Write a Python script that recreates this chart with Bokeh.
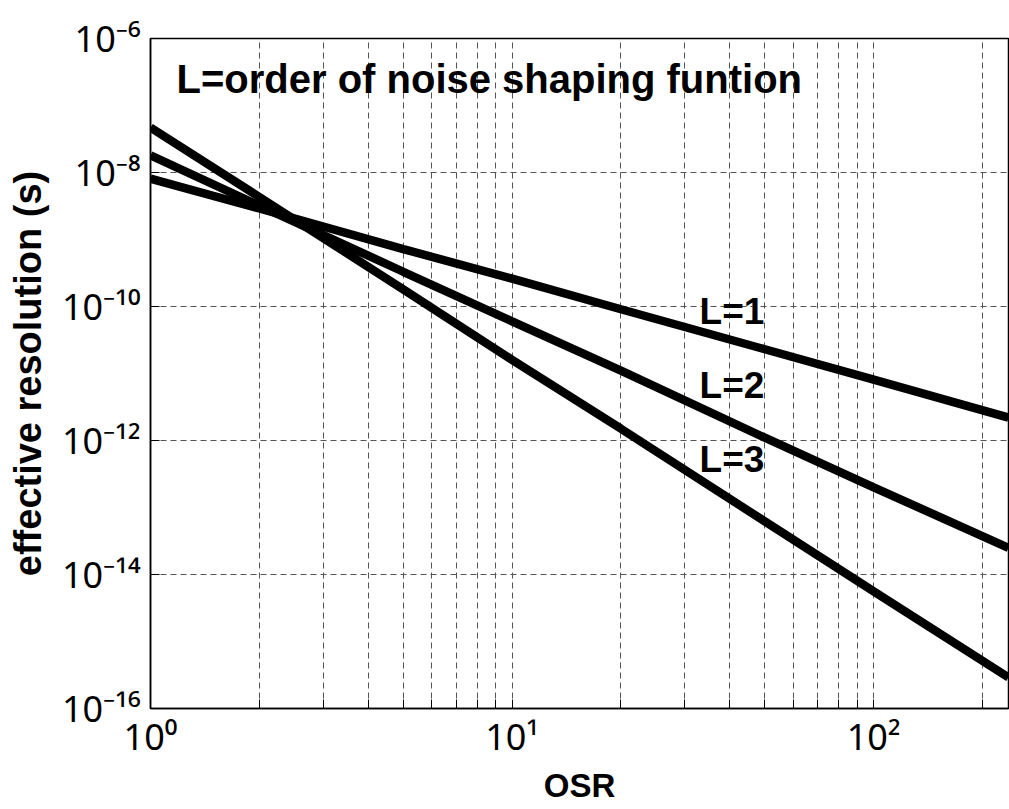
from bokeh.plotting import figure
from bokeh.models import FixedTicker, Label, Range1d
from bokeh.embed import file_html
from bokeh.resources import INLINE

# ---- data ----
osr = [1, 2, 5, 10, 20, 50, 100, 236]
res_L1 = [8.1e-9, 2.9e-9, 7.2e-10, 2.6e-10, 9.1e-11, 2.3e-11, 8.1e-12, 2.2e-12]
res_L2 = [1.8e-8, 3.2e-9, 3.3e-10, 6.0e-11, 1.1e-11, 1.1e-12, 2.0e-13, 2.5e-14]
res_L3 = [4.7e-8, 4.3e-9, 1.8e-10, 1.6e-11, 1.5e-12, 6.2e-14, 5.6e-15, 2.9e-16]

x_major = [1, 10, 100]
x_minor = [2, 3, 4, 5, 6, 7, 8, 9, 20, 30, 40, 50, 60, 70, 80, 90, 200]
x_tick_labels = ["10\u2070", "10\u00b9", "10\u00b2"]
y_major = [1e-16, 1e-14, 1e-12, 1e-10, 1e-8, 1e-6]
y_tick_labels = ["10\u207b\u00b9\u2076", "10\u207b\u00b9\u2074", "10\u207b\u00b9\u00b2",
                 "10\u207b\u00b9\u2070", "10\u207b\u2078", "10\u207b\u2076"]

curve_labels = ["L=1", "L=2", "L=3"]
curve_label_x = [33, 33, 33]
curve_label_y = [8.5e-11, 6.6e-12, 5.2e-13]

title_text = "L=order of noise shaping funtion"
title_x = 1.18
title_y = 2.5e-7

x_title = "OSR"
y_title = "effective resolution (s)"

FONT = "Liberation Sans"
TICK_FONT = "Noto Sans"

p = figure(width=1009, height=809, x_axis_type="log", y_axis_type="log",
           x_range=Range1d(1, 236), y_range=Range1d(1e-16, 1e-6),
           output_backend="svg", toolbar_location=None,
           min_border_left=150, min_border_right=1,
           min_border_top=38, min_border_bottom=101)

p.background_fill_color = "white"
p.border_fill_color = "white"
p.outline_line_color = "black"
p.outline_line_width = 1.5

p.xaxis.ticker = FixedTicker(ticks=x_major, minor_ticks=x_minor)
p.yaxis.ticker = FixedTicker(ticks=y_major, minor_ticks=[])
p.xgrid.ticker = p.xaxis.ticker
p.ygrid.ticker = p.yaxis.ticker
p.xaxis.major_label_overrides = {v: t for v, t in zip(x_major, x_tick_labels)}
p.yaxis.major_label_overrides = {v: t for v, t in zip(y_major, y_tick_labels)}

for ax in (p.xaxis, p.yaxis):
    ax.major_tick_in = 9
    ax.major_tick_out = 0
    ax.minor_tick_in = 9
    ax.minor_tick_out = 0
    ax.axis_line_color = "black"
    ax.axis_line_width = 1.5
    ax.major_tick_line_color = "black"
    ax.minor_tick_line_color = "black"
    ax.major_label_text_font = TICK_FONT
    ax.major_label_text_font_size = "36px"
    ax.major_label_text_color = "black"
    ax.axis_label_text_font = FONT
    ax.axis_label_text_font_style = "bold"
    ax.axis_label_text_color = "black"

p.xaxis.axis_label = x_title
p.yaxis.axis_label = y_title
p.xaxis.axis_label_text_font_size = "33px"
p.yaxis.axis_label_text_font_size = "38px"
p.xaxis.major_label_standoff = 3
p.xaxis.axis_label_standoff = 3
p.yaxis.major_label_standoff = 10
p.yaxis.axis_label_standoff = 10

p.xgrid.grid_line_color = "#555555"
p.xgrid.grid_line_dash = "6 4"
p.xgrid.minor_grid_line_color = "#555555"
p.xgrid.minor_grid_line_dash = "6 4"
p.ygrid.grid_line_color = "#555555"
p.ygrid.grid_line_dash = "6 4"

for ys in (res_L1, res_L2, res_L3):
    p.line(osr, ys, line_color="black", line_width=8.5)

# curve labels
for t, x, y in zip(curve_labels, curve_label_x, curve_label_y):
    p.add_layout(Label(x=x, y=y, text=t, text_font=FONT, text_font_style="bold",
                       text_font_size="37px", text_align="left",
                       text_baseline="alphabetic", text_color="black"))

# in-plot title
p.add_layout(Label(x=title_x, y=title_y, text=title_text, text_font=FONT,
                   text_font_style="bold", text_font_size="40px",
                   text_align="left", text_baseline="alphabetic", text_color="black"))

open("out.html", "w").write(file_html(p, INLINE))
